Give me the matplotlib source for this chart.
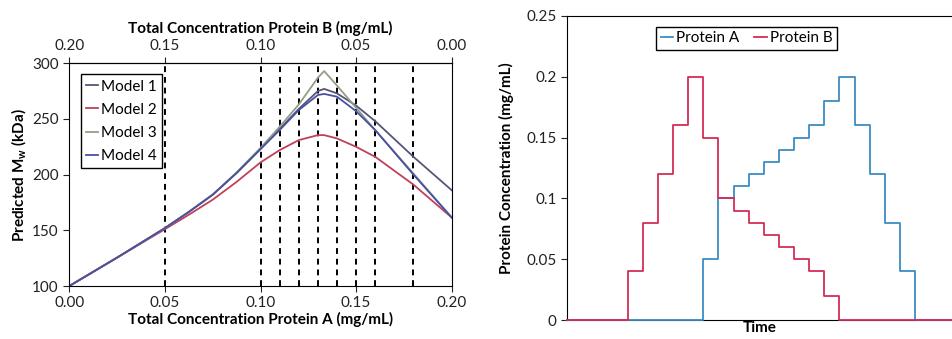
import numpy as np
import matplotlib.pyplot as plt

plt.rcParams['font.family'] = ['Lato', 'DejaVu Sans']
plt.rcParams['mathtext.default'] = 'regular'

# left panel: predicted Mw vs total concentration of protein A
conc_a = [0, 0.025, 0.05, 0.0625, 0.075, 0.0875, 0.10, 0.11, 0.12, 0.13, 0.1333,
          0.14, 0.15, 0.16, 0.18, 0.20]
model1 = [100, 125.5, 152, 166.5, 182, 201.5, 223, 241, 259, 275, 277, 273, 262, 248, 216, 186]
model2 = [100, 125.5, 151, 164, 177.5, 193.5, 211, 222, 231, 235.5, 235.5, 232.5, 225, 216, 191, 161.5]
model3 = [100, 125.5, 152, 166.5, 182, 202, 224, 243, 263, 287, 293, 280, 260, 240, 201, 161.5]
model4 = [100, 125.5, 152, 166.5, 182, 201.5, 223, 240, 258, 271.5, 272.5, 270, 257, 240, 200, 161.5]
model_names = ["Model 1", "Model 2", "Model 3", "Model 4"]
sample_conc = [0.05, 0.10, 0.11, 0.12, 0.13, 0.14, 0.15, 0.16, 0.18]

# right panel: step gradient over time
time_steps = np.arange(27)
prot_a = [0, 0, 0, 0, 0, 0, 0, 0, 0, 0.05, 0.10, 0.11, 0.12, 0.13, 0.14, 0.15, 0.16,
          0.18, 0.20, 0.16, 0.12, 0.08, 0.04, 0, 0, 0]
prot_b = [0, 0, 0, 0, 0.04, 0.08, 0.12, 0.16, 0.20, 0.15, 0.10, 0.09, 0.08, 0.07, 0.06,
          0.05, 0.04, 0.02, 0, 0, 0, 0, 0, 0, 0, 0]

fs = 11
fig = plt.figure(figsize=(9.53, 3.39), dpi=100)

ax = fig.add_axes([0.0727, 0.1563, 0.4013, 0.657])
colors = ["#55557a", "#c0405a", "#939d88", "#4a50a0"]
for ys, c, n in zip([model1, model2, model3, model4], colors, model_names):
    ax.plot(conc_a, ys, color=c, lw=1.3, label=n)
for x in sample_conc:
    ax.axvline(x, color="black", lw=1.4, ls=(0, (3, 2.5)), zorder=0)

ax.set_xlim(0, 0.2)
ax.set_ylim(100, 300)
ax.set_xticks([0, 0.05, 0.10, 0.15, 0.20])
ax.set_xticklabels(["0.00", "0.05", "0.10", "0.15", "0.20"])
ax.set_yticks([100, 150, 200, 250, 300])
ax.tick_params(direction="out", length=4, labelsize=fs, colors="#222222")
ax.set_xlabel("Total Concentration Protein A (mg/mL)", fontsize=fs, fontweight="bold", labelpad=1)
ax.set_ylabel(r"Predicted M$_w$ (kDa)", fontsize=fs, fontweight="bold", labelpad=3)

top = ax.secondary_xaxis("top", functions=(lambda x: 0.2 - x, lambda x: 0.2 - x))
top.set_xticks([0.20, 0.15, 0.10, 0.05, 0.00])
top.set_xticklabels(["0.20", "0.15", "0.10", "0.05", "0.00"])
top.tick_params(direction="out", length=4, labelsize=fs, colors="#222222")
top.set_xlabel("Total Concentration Protein B (mg/mL)", fontsize=fs, fontweight="bold", labelpad=4)

leg = ax.legend(loc="upper left", handlelength=0.8, handletextpad=0.2, fontsize=fs,
                fancybox=False, framealpha=1, edgecolor="black", borderpad=0.35,
                labelspacing=0.6, bbox_to_anchor=(0.01, 0.985))
leg.get_frame().set_linewidth(1.0)

ax2 = fig.add_axes([0.595, 0.056, 0.405, 0.897])
ax2.step(time_steps, prot_a + [prot_a[-1]], where="post", color="#3a8cc4", lw=1.3,
         label="Protein A", zorder=3, clip_on=False)
ax2.step(time_steps, prot_b + [prot_b[-1]], where="post", color="#d42c55", lw=1.3,
         label="Protein B", zorder=4, clip_on=False)
ax2.set_xlim(0, 25.5)
ax2.set_ylim(0, 0.25)
ax2.set_xticks([])
ax2.set_yticks([0, 0.05, 0.1, 0.15, 0.2, 0.25])
ax2.set_yticklabels(["0", "0.05", "0.1", "0.15", "0.2", "0.25"])
ax2.tick_params(direction="out", length=4, labelsize=fs, colors="#222222")
ax2.set_xlabel("Time", fontsize=fs, fontweight="bold", labelpad=1)
ax2.set_ylabel("Protein Concentration (mg/mL)", fontsize=fs, fontweight="bold", labelpad=9)
leg2 = ax2.legend(loc="upper center", ncol=2, handlelength=0.8, handletextpad=0.2,
                  columnspacing=1.0, fontsize=fs, fancybox=False, framealpha=1,
                  edgecolor="black", borderpad=0.3, bbox_to_anchor=(0.465, 0.99))
leg2.get_frame().set_linewidth(1.0)

plt.savefig("out.png", dpi=100)
